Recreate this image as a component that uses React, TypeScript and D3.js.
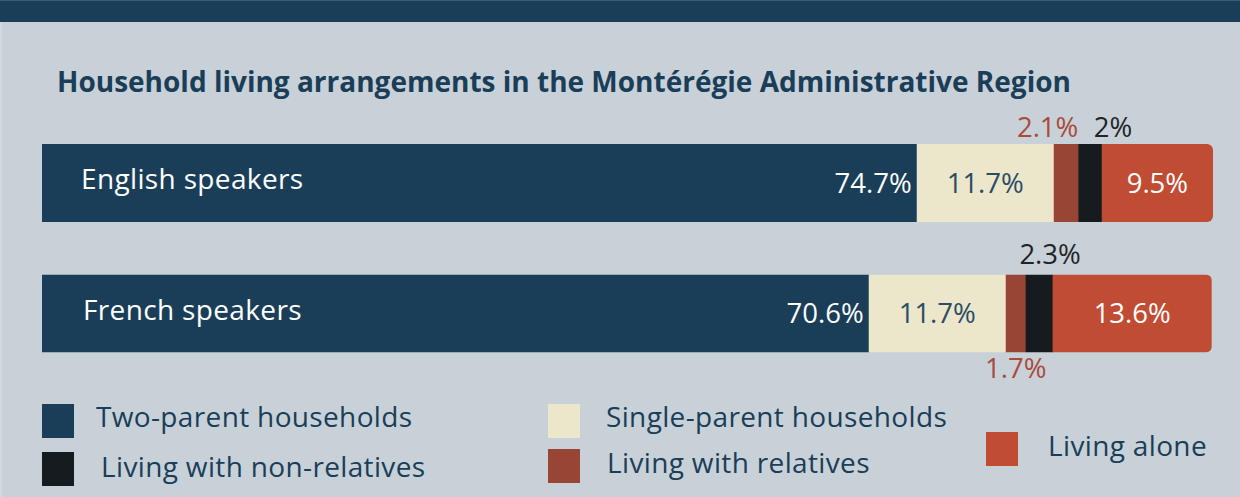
import React from "react";
import * as d3 from "d3";

const categories = ["English speakers", "French speakers"];
const seriesNames = [
  "Two-parent households",
  "Single-parent households",
  "Living with relatives",
  "Living with non-relatives",
  "Living alone",
];
const twoParent = [74.7, 70.6];
const singleParent = [11.7, 11.7];
const withRelatives = [2.1, 1.7];
const withNonRelatives = [2.0, 2.3];
const livingAlone = [9.5, 13.6];
const valueLabels = [
  ["74.7%", "11.7%", "2.1%", "2%", "9.5%"],
  ["70.6%", "11.7%", "1.7%", "2.3%", "13.6%"],
];

const W = 1240;
const H = 497;
const FONT = "'Open Sans', 'Noto Sans', sans-serif";
const NAVY = "#1a3e58";
const BG = "#c9d1d8";
const COLORS = ["#1a3e58", "#ece7cb", "#994535", "#161b1f", "#c04c34"];
const LABEL_COLORS = ["#ffffff", "#2b4c64", "#a94b3b", "#1f2428", "#ffffff"];

export default function App() {
  const x = d3.scaleLinear().domain([0, 100]).range([42, 1213]);
  const y = d3
    .scaleBand<string>()
    .domain(categories)
    .range([144, 352.5])
    .paddingInner(0.4023)
    .paddingOuter(0);
  const bw = y.bandwidth();

  const rows = categories.map((c, i) => {
    const vals = [twoParent[i], singleParent[i], withRelatives[i], withNonRelatives[i], livingAlone[i]];
    let acc = 0;
    const segs = vals.map((v, k) => {
      const s = { k, x0: acc, x1: acc + v, v, label: valueLabels[i][k] };
      acc += v;
      return s;
    });
    return { c, i, segs, total: acc };
  });

  const fs = 27.5;
  const cap = fs * 0.714;
  const textFs = 28;
  const ls = 0.35;

  const barPath = (x0: number, x1: number, y0: number, h: number, r: number) => {
    const p = d3.path();
    p.moveTo(x0, y0);
    p.lineTo(x1 - r, y0);
    p.arcTo(x1, y0, x1, y0 + r, r);
    p.lineTo(x1, y0 + h - r);
    p.arcTo(x1, y0 + h, x1 - r, y0 + h, r);
    p.lineTo(x0, y0 + h);
    p.closePath();
    return p.toString();
  };

  const legendLayout = [
    { sx: 42, sy: 404, tx: 96, ty: 427 },
    { sx: 548, sy: 404, tx: 606, ty: 427 },
    { sx: 548, sy: 449, tx: 607, ty: 473 },
    { sx: 42, sy: 452, tx: 101, ty: 477 },
    { sx: 986, sy: 432, tx: 1048, ty: 456 },
  ];

  return (
    <div style={{ position: "fixed", left: 0, top: 0, width: W, height: H }}>
      <svg width={W} height={H} viewBox={`0 0 ${W} ${H}`} style={{ display: "block" }}>
        <rect x={0} y={0} width={W} height={H} fill={BG} />
        <rect x={0} y={0} width={2} height={H} fill="#d3d9de" />
        <rect x={0} y={0} width={W} height={22} fill={NAVY} />
        <rect x={0} y={0} width={W} height={1} fill="#3b5b72" />
        <text x={57} y={92} fontFamily={FONT} fontWeight={700} fontSize={28} fill={NAVY}>
          Household living arrangements in the Montérégie Administrative Region
        </text>

        {rows.map((r) => {
          const y0 = y(r.c)!;
          const cy = y0 + bw / 2;
          const clipId = `clip-${r.i}`;
          return (
            <g key={r.c}>
              <defs>
                <clipPath id={clipId}>
                  <path d={barPath(x(0), x(r.total), y0, bw, 6)} />
                </clipPath>
              </defs>
              <g clipPath={`url(#${clipId})`}>
                {r.segs.map((s) => (
                  <rect
                    key={s.k}
                    x={x(s.x0)}
                    y={y0}
                    width={x(s.x1) - x(s.x0) + (s.k < 4 ? 0.5 : 0)}
                    height={bw}
                    fill={COLORS[s.k]}
                  />
                ))}
              </g>
              <text
                x={x(0) + (r.i === 0 ? 39 : 41)}
                y={cy + 6.5}
                fontFamily={FONT}
                fontSize={textFs}
                letterSpacing={ls}
                fill="#ffffff"
              >
                {r.c}
              </text>
              {r.segs.map((s) => {
                const mid = (x(s.x0) + x(s.x1)) / 2;
                let tx = mid;
                let ty = cy + cap / 2;
                let anchor: "start" | "middle" | "end" = "middle";
                if (s.k === 0) {
                  tx = x(s.x1) - 5;
                  anchor = "end";
                } else if (s.k === 2) {
                  if (r.i === 0) {
                    tx = x(s.x1);
                    anchor = "end";
                    ty = y0 - 7;
                  } else {
                    ty = y0 + bw + 25;
                  }
                } else if (s.k === 3) {
                  if (r.i === 0) {
                    tx = x(s.x1) - 8;
                    anchor = "start";
                    ty = y0 - 7;
                  } else {
                    tx = mid + 11;
                    ty = y0 - 11;
                  }
                }
                return (
                  <text
                    key={s.k}
                    x={tx}
                    y={ty}
                    textAnchor={anchor}
                    fontFamily={FONT}
                    fontSize={fs}
                    fill={LABEL_COLORS[s.k]}
                  >
                    {s.label}
                  </text>
                );
              })}
            </g>
          );
        })}

        {seriesNames.map((n, k) => {
          const L = legendLayout[k];
          return (
            <g key={n}>
              <rect x={L.sx} y={L.sy} width={32} height={34} fill={COLORS[k]} />
              <text
                x={L.tx}
                y={L.ty}
                fontFamily={FONT}
                fontSize={textFs}
                letterSpacing={ls}
                fill={NAVY}
              >
                {n}
              </text>
            </g>
          );
        })}
      </svg>
    </div>
  );
}
